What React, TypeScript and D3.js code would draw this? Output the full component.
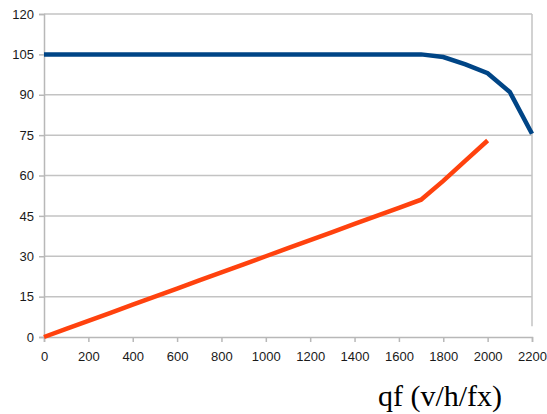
import React, { useRef, useEffect } from "react";
import { select, scaleLinear, line, axisLeft, axisBottom, format } from "d3";

// x values (qf, v/h/fx)
const qfBlue = [0, 100, 200, 300, 400, 500, 600, 700, 800, 900, 1000, 1100, 1200, 1300, 1400, 1500, 1600, 1700, 1800, 1900, 2000, 2100, 2200];
const speedBlue = [105, 105, 105, 105, 105, 105, 105, 105, 105, 105, 105, 105, 105, 105, 105, 105, 105, 105, 104, 101.3, 98, 91, 75.5];

const qfOrange = [0, 100, 200, 300, 400, 500, 600, 700, 800, 900, 1000, 1100, 1200, 1300, 1400, 1500, 1600, 1700, 1800, 1900, 2000];
const valOrange = [0, 3, 6, 9, 12, 15, 18, 21, 24, 27, 30, 33, 36, 39, 42, 45, 48, 51, 58, 65.5, 73];

const xTicks = [0, 200, 400, 600, 800, 1000, 1200, 1400, 1600, 1800, 2000, 2200];
const yTicks = [0, 15, 30, 45, 60, 75, 90, 105, 120];
const xTitle = "qf (v/h/fx)";

const W = 547;
const H = 414;

const App = () => {
  const svgRef = useRef<SVGSVGElement>(null);

  useEffect(() => {
    const svg = select(svgRef.current);
    svg.selectAll("*").remove();

    const x = scaleLinear().domain([0, 2200]).range([44, 532]);
    const y = scaleLinear().domain([0, 120]).range([337, 14]);

    // grid
    svg
      .append("g")
      .selectAll("line")
      .data(yTicks.slice(1))
      .join("line")
      .attr("x1", x(0))
      .attr("x2", x(2200))
      .attr("y1", (d) => y(d))
      .attr("y2", (d) => y(d))
      .attr("stroke", "#c3c3c3")
      .attr("stroke-width", 1.5);

    // right border
    svg
      .append("line")
      .attr("x1", x(2200))
      .attr("x2", x(2200))
      .attr("y1", y(120))
      .attr("y2", y(4))
      .attr("stroke", "#c3c3c3")
      .attr("stroke-width", 1.5);

    // axes
    const yAxis = axisLeft(y).tickValues(yTicks).tickSize(5).tickPadding(5);
    const gy = svg.append("g").attr("transform", `translate(${x(0)},0)`).call(yAxis);

    const xAxis = axisBottom(x)
      .tickValues(xTicks)
      .tickFormat(format("d"))
      .tickSize(5)
      .tickPadding(10);
    const gx = svg.append("g").attr("transform", `translate(0,${y(0)})`).call(xAxis);

    [gy, gx].forEach((g) => {
      g.select(".domain").attr("stroke", "#b8b8b8").attr("stroke-width", 1.5);
      g.selectAll(".tick line").attr("stroke", "#b8b8b8").attr("stroke-width", 1.5);
      g.selectAll(".tick text")
        .attr("fill", "#1a1a1a")
        .style("font-family", "'Liberation Sans', Arial, sans-serif")
        .style("font-size", "13px");
    });

    // lines
    const lineGen = line<[number, number]>()
      .x((d) => x(d[0]))
      .y((d) => y(d[1]));

    svg
      .append("path")
      .datum(qfOrange.map((q, i) => [q, valOrange[i]] as [number, number]))
      .attr("d", lineGen)
      .attr("fill", "none")
      .attr("stroke", "#ff420e")
      .attr("stroke-width", 4.5);

    svg
      .append("path")
      .datum(qfBlue.map((q, i) => [q, speedBlue[i]] as [number, number]))
      .attr("d", lineGen)
      .attr("fill", "none")
      .attr("stroke", "#004586")
      .attr("stroke-width", 4.5);

    // axis title
    svg
      .append("text")
      .attr("x", 440)
      .attr("y", 406)
      .attr("text-anchor", "middle")
      .attr("fill", "#000")
      .style("font-family", "'Liberation Serif', 'Times New Roman', serif")
      .style("font-size", "30px")
      .text(xTitle);
  }, []);

  return (
    <svg
      ref={svgRef}
      width={W}
      height={H}
      style={{ position: "absolute", left: 0, top: 0, background: "#fff" }}
    />
  );
};

export default App;
